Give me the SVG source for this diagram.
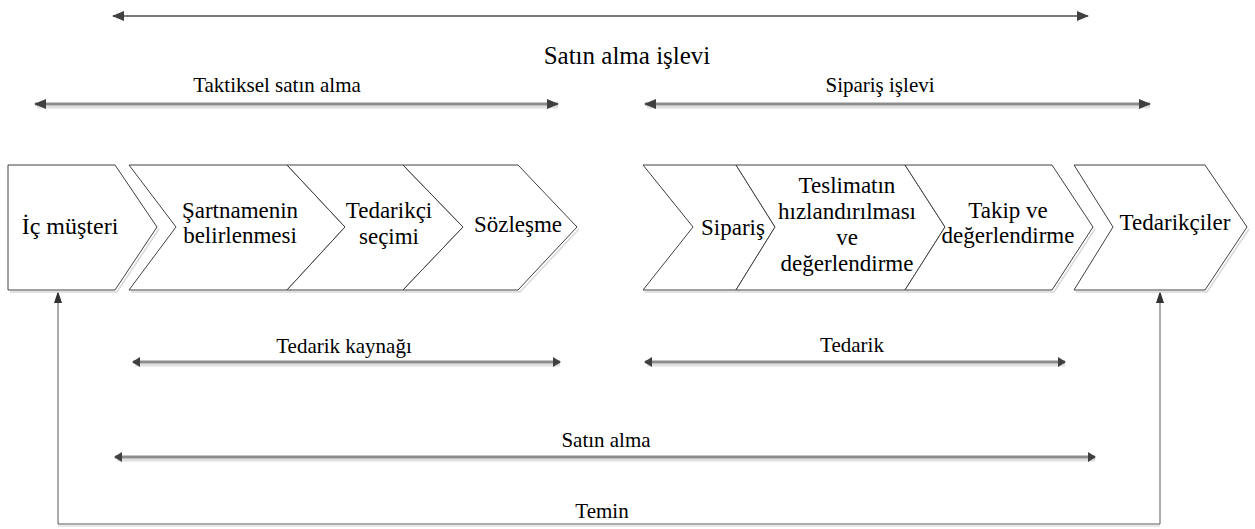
<svg xmlns="http://www.w3.org/2000/svg" width="1255" height="529" viewBox="0 0 1255 529">
<style>
.sh{fill:#fff;stroke:#404040;stroke-width:1}
.sd{fill:none;stroke:#d9d9d9;stroke-width:1.5}
.a1{fill:none;stroke:#4d4d4d;stroke-width:1.5}
.a2{fill:none;stroke:#8c8c8c;stroke-width:3}
.a2s{fill:none;stroke:#e0e0e0;stroke-width:3}
.lp{fill:none;stroke:#595959;stroke-width:1}
</style>
<defs>
<marker id="h" viewBox="0 0 12 10" refX="11" refY="5" markerWidth="12" markerHeight="10" markerUnits="userSpaceOnUse" orient="auto-start-reverse">
<path d="M0,0 L12,5 L0,10 Z" fill="#404040"/>
</marker>
<marker id="hs" viewBox="0 0 8 12" refX="7" refY="6" markerWidth="8" markerHeight="12" markerUnits="userSpaceOnUse" orient="auto-start-reverse">
<path d="M0,1 L8,6 L0,11 Z" fill="#404040"/>
</marker>
<marker id="hl" viewBox="0 0 12 8" refX="11" refY="4" markerWidth="12" markerHeight="8" markerUnits="userSpaceOnUse" orient="auto">
<path d="M0,0 L12,4 L0,8 Z" fill="#333"/>
</marker>
</defs>

<g id="connectors">
<line class="a1" x1="113" y1="16" x2="1088" y2="16" marker-start="url(#h)" marker-end="url(#h)"/>
<line class="a2s" x1="37" y1="107" x2="558" y2="107"/>
<line class="a2" x1="35" y1="104" x2="558" y2="104" marker-start="url(#h)" marker-end="url(#h)"/>
<line class="a2s" x1="647" y1="107" x2="1150" y2="107"/>
<line class="a2" x1="645" y1="104" x2="1150" y2="104" marker-start="url(#h)" marker-end="url(#h)"/>
<line class="a2s" x1="135" y1="365" x2="560" y2="365"/>
<line class="a2" x1="133" y1="362" x2="560" y2="362" marker-start="url(#hs)" marker-end="url(#hs)"/>
<line class="a2s" x1="647" y1="365" x2="1065" y2="365"/>
<line class="a2" x1="645" y1="362" x2="1065" y2="362" marker-start="url(#hs)" marker-end="url(#hs)"/>
<line class="a2s" x1="117" y1="460" x2="1095" y2="460"/>
<line class="a2" x1="115" y1="457" x2="1095" y2="457" marker-start="url(#hs)" marker-end="url(#hs)"/>
<line x1="58" y1="526" x2="1160" y2="526" stroke="#e0e0e0" stroke-width="1.5"/>
<polyline class="lp" points="58,524 58,292" marker-end="url(#hl)"/>
<polyline class="lp" points="1160,524 1160,292" marker-end="url(#hl)"/>
<polyline class="lp" points="58,524 1160,524"/>
</g>

<g id="labels" font-family="Liberation Serif, serif" font-size="21" fill="#000" text-anchor="middle">
<text x="627" y="64" font-size="25">Satın alma işlevi</text>
<text x="277" y="92">Taktiksel satın alma</text>
<text x="880" y="92">Sipariş işlevi</text>
<text x="344" y="353">Tedarik kaynağı</text>
<text x="852" y="352">Tedarik</text>
<text x="606" y="447">Satın alma</text>
<text x="602" y="518">Temin</text>
</g>

<g font-family="Liberation Serif, serif" font-size="23" fill="#000" text-anchor="middle">
<g id="n1">
<polyline class="sd" points="10,292 117,292 159,229"/>
<polygon class="sh" points="8,165 115,165 157,227 115,290 8,290"/>
<text x="70" y="234" font-size="24">İç müşteri</text>
</g>
<g id="n2">
<polyline class="sd" points="131,292 289,292 347,229"/>
<polygon class="sh" points="129,165 287,165 345,227 287,290 129,290 176,227"/>
<text x="240" y="218">Şartnamenin</text>
<text x="240" y="243">belirlenmesi</text>
</g>
<g id="n3">
<polyline class="sd" points="289,292 405,292 465,229"/>
<polygon class="sh" points="287,165 403,165 463,227 403,290 287,290 345,227"/>
<text x="389" y="218">Tedarikçi</text>
<text x="389" y="244">seçimi</text>
</g>
<g id="n4">
<polyline class="sd" points="405,292 520,292 579,229"/>
<polygon class="sh" points="403,165 518,165 577,227 518,290 403,290 463,227"/>
<text x="518" y="232">Sözleşme</text>
</g>
<g id="n5">
<polyline class="sd" points="645,292 738,292 777,229"/>
<polygon class="sh" points="643,165 736,165 775,227 736,290 643,290 693,227"/>
<text x="733" y="235">Sipariş</text>
</g>
<g id="n6">
<polyline class="sd" points="738,292 907,292 947,229"/>
<polygon class="sh" points="736,165 905,165 945,227 905,290 736,290 775,227"/>
<text x="847" y="193">Teslimatın</text>
<text x="847" y="219">hızlandırılması</text>
<text x="847" y="245">ve</text>
<text x="847" y="271">değerlendirme</text>
</g>
<g id="n7">
<polyline class="sd" points="907,292 1054,292 1095,229"/>
<polygon class="sh" points="905,165 1052,165 1093,227 1052,290 905,290 945,227"/>
<text x="1008" y="218">Takip ve</text>
<text x="1008" y="243">değerlendirme</text>
</g>
<g id="n8">
<polyline class="sd" points="1076,292 1207,292 1249,229"/>
<polygon class="sh" points="1074,165 1205,165 1247,227 1205,290 1074,290 1113,227"/>
<text x="1175" y="230">Tedarikçiler</text>
</g>
</g>
</svg>
